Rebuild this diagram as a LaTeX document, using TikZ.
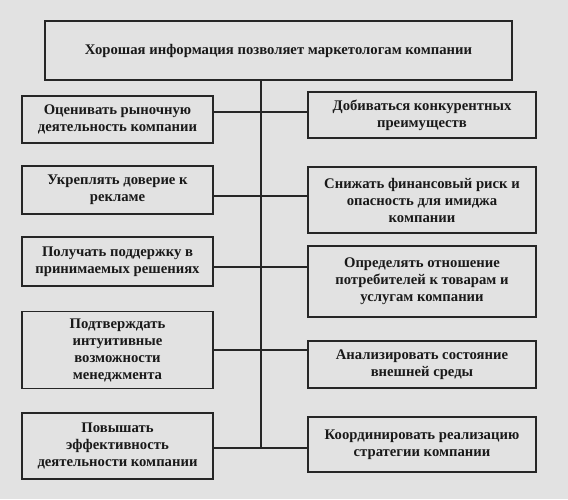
\documentclass[tikz,border=0pt]{standalone}
\usepackage{fontspec}
\setmainfont{Liberation Serif}
\definecolor{paper}{HTML}{E2E2E2}
\definecolor{ink}{HTML}{262626}
\begin{document}
\begin{tikzpicture}[x=1pt,y=1pt,
  box/.style={draw=ink, line width=1.4pt, rectangle, inner sep=0pt, align=center,
    text=black!90, font=\bfseries\fontsize{14.7}{17}\selectfont},
  link/.style={draw=ink, line width=1.1pt}]
\fill[paper] (0,0) rectangle (568,-499);
\useasboundingbox (0,0) rectangle (568,-499);
\node[box, minimum width=191pt, minimum height=47pt] (L1) at (117.5,-119.5) {Оценивать рыночную\\деятельность компании};
\node[box, minimum width=467pt, minimum height=59pt] (top) at (278.5,-50.5) {Хорошая информация позволяет маркетологам компании};
\node[box, minimum width=228pt, minimum height=46pt] (R1) at (422,-115) {Добиваться конкурентных\\преимуществ};
\node[box, minimum width=191pt, minimum height=48pt] (L2) at (117.5,-190) {Укреплять доверие к\\рекламе};
\node[box, minimum width=228pt, minimum height=66pt] (R2) at (422,-200) {Снижать финансовый риск и\\опасность для имиджа\\компании};
\node[box, minimum width=191pt, minimum height=49pt] (L3) at (117.5,-261.5) {Получать поддержку в\\принимаемых решениях};
\node[box, minimum width=228pt, minimum height=71pt] (R3) at (422,-281.5) {Определять отношение\\потребителей к товарам и\\услугам компании};
\node[box, minimum width=191pt, minimum height=77pt] (L4) at (117.5,-350) {Подтверждать\\интуитивные\\возможности\\менеджмента};
\node[box, minimum width=228pt, minimum height=47pt] (R4) at (422,-364.5) {Анализировать состояние\\внешней среды};
\node[box, minimum width=191pt, minimum height=66pt] (L5) at (117.5,-446) {Повышать\\эффективность\\деятельности компании};
\node[box, minimum width=228pt, minimum height=55pt] (R5) at (422,-444.5) {Координировать реализацию\\стратегии компании};
\coordinate (c1) at (261,-112);
\coordinate (c2) at (261,-196);
\coordinate (c3) at (261,-267);
\coordinate (c4) at (261,-350);
\coordinate (c5) at (261,-448);
\draw[link] (top.south -| c5) -- (c5);
\draw[link] (L1.east |- c1) -- (R1.west |- c1);
\draw[link] (L2.east |- c2) -- (R2.west |- c2);
\draw[link] (L3.east |- c3) -- (R3.west |- c3);
\draw[link] (L4.east |- c4) -- (R4.west |- c4);
\draw[link] (L5.east |- c5) -- (R5.west |- c5);
\end{tikzpicture}
\end{document}
